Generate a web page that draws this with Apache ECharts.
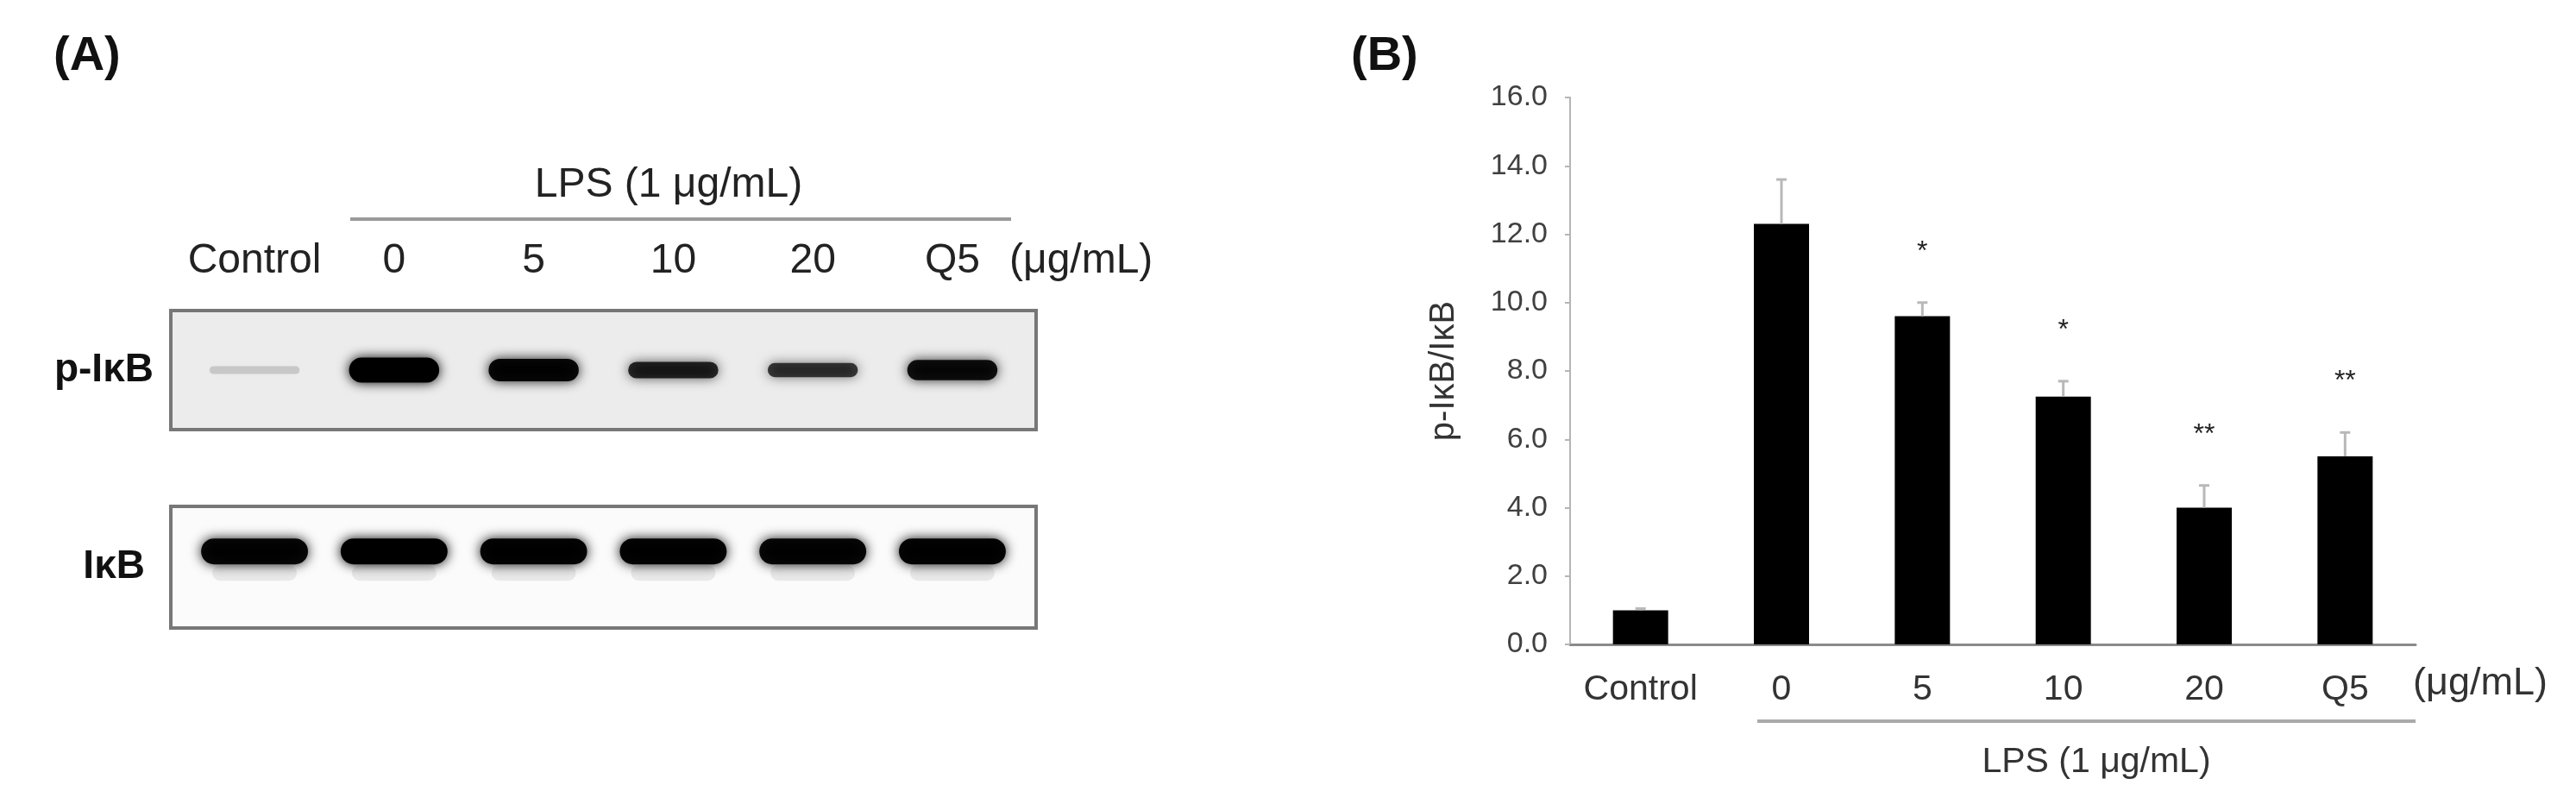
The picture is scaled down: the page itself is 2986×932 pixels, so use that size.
<!DOCTYPE html>
<html>
<head>
<meta charset="utf-8">
<title>p-IkB western blot</title>
<style>
html, body { margin: 0; padding: 0; background: #fff; }
#container { width: 2986px; height: 932px; }
</style>
</head>
<body>
<div id="container"></div>
<script src="https://cdn.jsdelivr.net/npm/echarts@6/dist/echarts.min.js"></script>
<script>
// lanes / groups
var lanes = ['Control', '0', '5', '10', '20', 'Q5'];
// relative band darkness read from the blot (0..1)
var pIkbBand = [0.15, 1.0, 0.95, 0.8, 0.72, 0.9];
var ikbBand = [0.95, 1.0, 0.97, 0.97, 0.95, 0.97];
// densitometry p-IkB/IkB, mean and SD
var ratioMean = [1.0, 12.3, 9.6, 7.25, 4.0, 5.5];
var ratioSd = [0.05, 1.3, 0.4, 0.45, 0.65, 0.7];
var signif = ['', '', '*', '*', '**', '**'];

var FONT = 'Liberation Sans, Arial, sans-serif';

function bandItem(widthUnits, smear) {
  return function (params, api) {
    var c = api.coord([api.value(0), api.value(1)]);
    var k = api.value(2);
    var w = api.size([widthUnits, 0])[0];
    var h = smear ? 30 : 9 + 20 * Math.pow(k, 3);
    var kids = [];
    if (smear) {
      kids.push({
        type: 'rect',
        shape: { x: c[0] - w * 0.36, y: c[1] + 16, width: w * 0.72, height: 18, r: 9 },
        style: { fill: 'rgba(0,0,0,0.07)', shadowBlur: 18, shadowColor: 'rgba(0,0,0,0.1)' }
      });
    }
    kids.push({
      type: 'rect',
      shape: { x: c[0] - w / 2 + 6, y: c[1] - h / 2, width: w - 12, height: h, r: h / 2 },
      style: { fill: 'rgba(0,0,0,' + k + ')', shadowBlur: 14, shadowColor: 'rgba(0,0,0,' + k + ')' }
    });
    return { type: 'group', children: kids };
  };
}

function errItem(params, api) {
  var i = api.value(0), m = api.value(1), sd = api.value(2);
  var base = api.coord([i, m]);
  var top = api.coord([i, m + sd]);
  return {
    type: 'group',
    children: [
      { type: 'line', shape: { x1: base[0], y1: base[1], x2: top[0], y2: top[1] },
        style: { stroke: '#b8b8b8', lineWidth: 3 } },
      { type: 'line', shape: { x1: top[0] - 6, y1: top[1], x2: top[0] + 6, y2: top[1] },
        style: { stroke: '#b8b8b8', lineWidth: 3 } },
      { type: 'text', x: top[0], y: top[1] - 59,
        style: { text: signif[i], fill: '#222', font: '32px ' + FONT, align: 'center', verticalAlign: 'middle' } }
    ]
  };
}

var laneCenters = lanes.map(function (l, i) { return i + 0.5; });

var dom = document.getElementById('container');
var myChart = echarts.init(dom, null, { renderer: 'canvas' });

var option = {
  animation: false,
  textStyle: { fontFamily: FONT },
  grid: [
    { left: 198, top: 360, width: 1003, height: 138, show: true,
      backgroundColor: '#ececec', borderColor: '#777', borderWidth: 4 },
    { left: 198, top: 587, width: 1003, height: 141, show: true,
      backgroundColor: '#fbfbfb', borderColor: '#777', borderWidth: 4 },
    { left: 1820, top: 113, width: 980, height: 634 }
  ],
  xAxis: [
    { gridIndex: 0, type: 'value', min: -0.1, max: 6.1, position: 'top',
      axisLine: { show: false }, axisTick: { show: false }, splitLine: { show: false },
      axisLabel: {
        customValues: laneCenters, margin: 33, fontSize: 48, color: '#222', fontFamily: FONT,
        formatter: function (v) { return lanes[Math.floor(v)]; }
      } },
    { gridIndex: 1, type: 'value', min: -0.1, max: 6.1, show: false },
    { gridIndex: 2, type: 'category', data: lanes,
      axisLine: { lineStyle: { color: '#8a8a8a', width: 3 } },
      axisTick: { alignWithLabel: true, length: 6, lineStyle: { color: '#8a8a8a', width: 2 } },
      axisLabel: { interval: 0, fontSize: 41, color: '#333', margin: 32, fontFamily: FONT } }
  ],
  yAxis: [
    { gridIndex: 0, type: 'value', min: 0, max: 1, name: 'p-IκB', nameLocation: 'middle',
      nameRotate: 0, nameGap: 20,
      nameTextStyle: { fontSize: 46, fontWeight: 'bold', color: '#111', fontFamily: FONT },
      axisLine: { show: false }, axisTick: { show: false }, axisLabel: { show: false },
      splitLine: { show: false } },
    { gridIndex: 1, type: 'value', min: 0, max: 1, name: 'IκB', nameLocation: 'middle',
      nameRotate: 0, nameGap: 30,
      nameTextStyle: { fontSize: 46, fontWeight: 'bold', color: '#111', fontFamily: FONT },
      axisLine: { show: false }, axisTick: { show: false }, axisLabel: { show: false },
      splitLine: { show: false } },
    { gridIndex: 2, type: 'value', min: 0, max: 16, interval: 2,
      name: 'p-IκB/IκB', nameLocation: 'middle', nameGap: 126,
      nameTextStyle: { fontSize: 40, color: '#333', fontFamily: FONT },
      axisLine: { show: true, lineStyle: { color: '#b5b5b5', width: 2 } },
      axisTick: { show: true, length: 6, lineStyle: { color: '#b5b5b5', width: 2 } },
      axisLabel: { fontSize: 34, color: '#404040', margin: 26, fontFamily: FONT,
        formatter: function (v) { return v.toFixed(1); } },
      splitLine: { show: false } }
  ],
  series: [
    { type: 'custom', xAxisIndex: 0, yAxisIndex: 0,
      renderItem: bandItem(0.72, false),
      data: lanes.map(function (l, i) { return [i + 0.5, 0.5, pIkbBand[i]]; }) },
    { type: 'custom', xAxisIndex: 1, yAxisIndex: 1,
      renderItem: bandItem(0.84, true),
      data: lanes.map(function (l, i) { return [i + 0.5, 0.63, ikbBand[i]]; }) },
    { type: 'bar', xAxisIndex: 2, yAxisIndex: 2, data: ratioMean, barWidth: 64,
      itemStyle: { color: '#000' } },
    { type: 'custom', xAxisIndex: 2, yAxisIndex: 2, renderItem: errItem, z: 3,
      data: lanes.map(function (l, i) { return [i, ratioMean[i], ratioSd[i]]; }) }
  ],
  graphic: [
    { type: 'text', left: 62, top: 38,
      style: { text: '(A)', font: 'bold 56px ' + FONT, fill: '#111' } },
    { type: 'text', left: 1566, top: 38,
      style: { text: '(B)', font: 'bold 56px ' + FONT, fill: '#111' } },
    // panel A header
    { type: 'text', x: 775, y: 215,
      style: { text: 'LPS (1 μg/mL)', font: '48px ' + FONT, fill: '#222', align: 'center', verticalAlign: 'middle' } },
    { type: 'line', shape: { x1: 406, y1: 254, x2: 1172, y2: 254 },
      style: { stroke: '#9a9a9a', lineWidth: 4 } },
    { type: 'text', x: 1170, y: 303,
      style: { text: '(μg/mL)', font: '48px ' + FONT, fill: '#222', align: 'left', verticalAlign: 'middle' } },
    // panel B footer
    { type: 'text', x: 2797, y: 793,
      style: { text: '(μg/mL)', font: '45px ' + FONT, fill: '#333', align: 'left', verticalAlign: 'middle' } },
    { type: 'line', shape: { x1: 2037, y1: 836, x2: 2800, y2: 836 },
      style: { stroke: '#aaaaaa', lineWidth: 4 } },
    { type: 'text', x: 2430, y: 884,
      style: { text: 'LPS (1 μg/mL)', font: '41px ' + FONT, fill: '#333', align: 'center', verticalAlign: 'middle' } }
  ]
};

myChart.setOption(option);
</script>
</body>
</html>
